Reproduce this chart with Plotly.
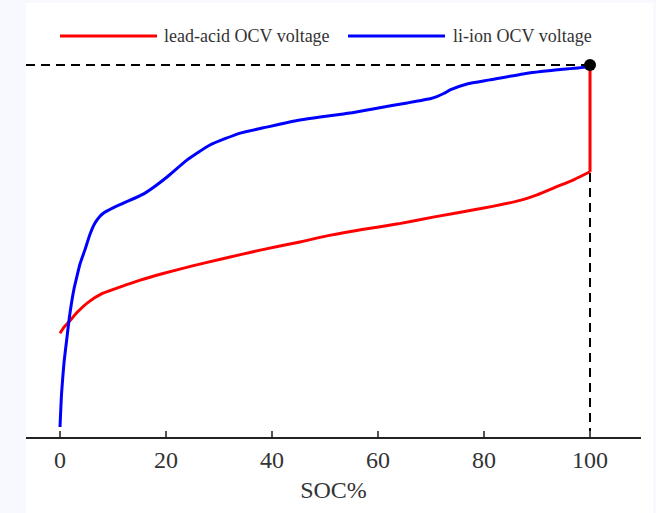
import plotly.graph_objects as go

# ---- data (y in arbitrary relative units, full charge = 100)
li_soc = [0, 0.3, 0.75, 1.26, 1.75, 2.2, 2.64, 3.2, 3.77, 4.7, 5.66, 6.6, 7.5, 8.3, 10, 12.5,
          15.7, 18, 20.2, 24, 28.3, 34, 39, 45.3, 54.7, 59.8, 65.5, 70, 71.1, 72.5, 73.6, 76.8,
          81.1, 87.4, 93.8, 99.4, 100]
li_ocv = [2.7, 11.8, 19.9, 26.1, 32.0, 36.3, 39.8, 43.2, 46.5, 50.3, 54.5, 57.5, 59.3, 60.3,
          61.6, 63.2, 65.3, 67.5, 69.9, 74.5, 78.5, 81.7, 83.3, 85.2, 87.1, 88.4, 89.8, 91.0,
          91.5, 92.4, 93.3, 94.9, 96.0, 97.6, 98.7, 99.5, 100]

pb_soc = [0, 0.8, 1.7, 3.3, 5.3, 8, 11.3, 15, 19.1, 25, 30.9, 38, 45.5, 50.8, 57, 63.8, 70.4,
          80.2, 86.8, 90, 93.4, 97, 100, 100]
pb_ocv = [27.9, 29.6, 31.0, 33.6, 36.2, 38.6, 40.3, 42.1, 43.8, 46.0, 48.0, 50.3, 52.5, 54.2,
          55.8, 57.3, 59.1, 61.6, 63.6, 65.1, 67.1, 69.2, 71.3, 98.7]

full_soc = 100
full_ocv = 100

x_ticks = [0, 20, 40, 60, 80, 100]
x_range = [-6.415, 109.62]
y_range = [0, 112.1]

series_names = ["lead-acid OCV voltage", "li-ion OCV voltage"]

SERIF = "Liberation Serif, DejaVu Serif, serif"

fig = go.Figure()

# reference dashed lines to the full-charge point
fig.add_trace(go.Scatter(x=[x_range[0], full_soc], y=[full_ocv, full_ocv], mode="lines",
                         line=dict(color="black", width=2, dash="9px,6px"),
                         showlegend=False, hoverinfo="skip"))
fig.add_trace(go.Scatter(x=[full_soc, full_soc], y=[y_range[0], full_ocv], mode="lines",
                         line=dict(color="black", width=2, dash="9px,6px"),
                         showlegend=False, hoverinfo="skip"))

# lead-acid: smooth curve plus the vertical jump at full charge
fig.add_trace(go.Scatter(x=pb_soc[:-1], y=pb_ocv[:-1], mode="lines", name=series_names[0],
                         line=dict(color="#ff0000", width=3, shape="spline", smoothing=0.5),
                         showlegend=False))
fig.add_trace(go.Scatter(x=pb_soc[-2:], y=pb_ocv[-2:], mode="lines", name=series_names[0],
                         line=dict(color="#ff0000", width=3), showlegend=False))
fig.add_trace(go.Scatter(x=li_soc, y=li_ocv, mode="lines", name=series_names[1],
                         line=dict(color="#0000ff", width=3, shape="spline", smoothing=0.5),
                         showlegend=False))
fig.add_trace(go.Scatter(x=[full_soc], y=[full_ocv], mode="markers",
                         marker=dict(color="black", size=12), showlegend=False))

L, R, T, B = 26, 15, 20, 76
W, H = 656, 513
pw, ph = W - L - R, H - T - B

def px(xp):
    return (xp - L) / pw

def py(yp):
    return (H - B - yp) / ph

shapes = [
    # white page panel
    dict(type="rect", xref="paper", yref="paper", x0=px(26), x1=px(653), y0=py(513), y1=py(3),
         fillcolor="white", line=dict(width=0), layer="below"),
    # custom legend samples
    dict(type="line", xref="paper", yref="paper", x0=px(60), x1=px(157), y0=py(36), y1=py(36),
         line=dict(color="#ff0000", width=3)),
    dict(type="line", xref="paper", yref="paper", x0=px(348), x1=px(445), y0=py(36), y1=py(36),
         line=dict(color="#0000ff", width=3)),
]

annotations = [
    dict(xref="paper", yref="paper", x=px(162), y=py(36), text=series_names[0], showarrow=False,
         xanchor="left", yanchor="middle", font=dict(family=SERIF, size=18, color="#333")),
    dict(xref="paper", yref="paper", x=px(451), y=py(36), text=series_names[1], showarrow=False,
         xanchor="left", yanchor="middle", font=dict(family=SERIF, size=18, color="#333")),
]

fig.update_layout(
    width=W, height=H,
    margin=dict(l=L, r=R, t=T, b=B),
    paper_bgcolor="#f8f9fe",
    plot_bgcolor="white",
    shapes=shapes,
    annotations=annotations,
    font=dict(family=SERIF, color="#333"),
    xaxis=dict(range=x_range, tickvals=x_ticks, ticktext=[str(v) for v in x_ticks],
               showgrid=False, zeroline=False, showline=True, linecolor="#222", linewidth=2,
               ticks="inside", ticklen=6, tickwidth=1.5, tickcolor="#555",
               tickfont=dict(family=SERIF, size=24, color="#333"),
               title=dict(text="SOC%", font=dict(family=SERIF, size=24, color="#333"), standoff=9)),
    yaxis=dict(range=y_range, visible=False, showgrid=False, zeroline=False),
)

fig.write_html("out.html",
               config={"displayModeBar": False},
               post_script="document.body.style.margin='0';document.body.style.overflow='hidden';")
